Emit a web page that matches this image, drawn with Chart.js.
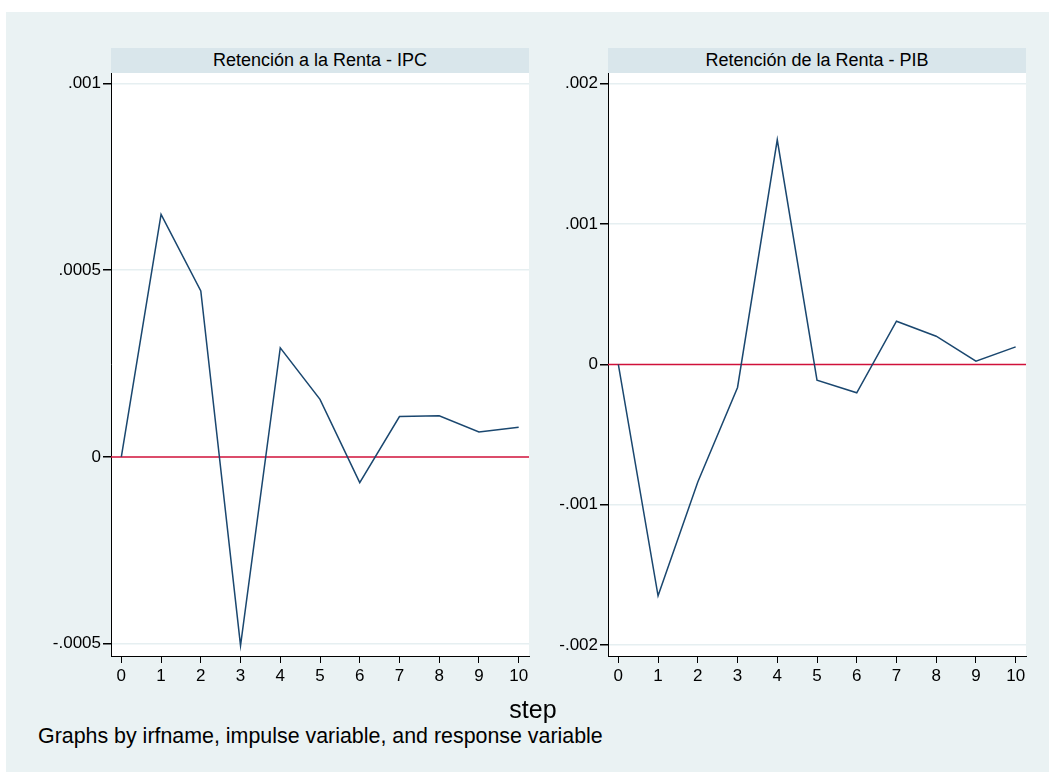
<!DOCTYPE html>
<html>
<head>
<meta charset="utf-8">
<script src="https://cdn.jsdelivr.net/npm/chart.js@4.4.1/dist/chart.umd.min.js"></script>
<style>
  body { margin: 0; background: #fff; width: 1050px; height: 773px; overflow: hidden; font-family: "Liberation Sans", Arial, sans-serif; }
  #outer { position: absolute; left: 6px; top: 12px; width: 1043px; height: 760px; background: #eaf2f3; }
  .band { position: absolute; top: 48px; height: 25px; background: #d9e6eb; color: #000; font-size: 18px; line-height: 25px; text-align: center; }
  .wrap { position: absolute; }
  #stepLabel { position: absolute; left: 483px; width: 100px; top: 694px; text-align: center; font-size: 25px; line-height: 30px; }
  #note { position: absolute; left: 38px; top: 724px; font-size: 21.4px; line-height: 24px; white-space: nowrap; }
</style>
</head>
<body>
<div id="outer"></div>
<div class="band" style="left:111px;width:418px;">Retención a la Renta - IPC</div>
<div class="band" style="left:608px;width:418px;">Retención de la Renta - PIB</div>
<div class="wrap" style="left:0;top:53px;width:540px;height:643px;"><canvas id="ipcChart"></canvas></div>
<div class="wrap" style="left:540px;top:53px;width:500px;height:643px;"><canvas id="pibChart"></canvas></div>
<div id="stepLabel">step</div>
<div id="note">Graphs by irfname, impulse variable, and response variable</div>
<script>
// Data
const steps = [0, 1, 2, 3, 4, 5, 6, 7, 8, 9, 10];
const ipcValues = [0, 0.000649, 0.000444, -0.000505, 0.000292, 0.000154, -0.0000687, 0.000108, 0.00011, 0.0000668, 0.0000794];
const pibValues = [0, -0.001649, -0.000838, -0.000164, 0.001601, -0.000112, -0.000202, 0.000308, 0.000201, 0.0000235, 0.000125];
const ipcTicks = [-0.0005, 0, 0.0005, 0.001];
const ipcTickLabels = ["-.0005", "0", ".0005", ".001"];
const pibTicks = [-0.002, -0.001, 0, 0.001, 0.002];
const pibTickLabels = ["-.002", "-.001", "0", ".001", ".002"];

const FONT = { family: '"Liberation Sans", Arial, sans-serif', size: 17 };

// white plot region + red zero line
const plotRegion = {
  id: 'plotRegion',
  beforeDraw(chart) {
    const { ctx, chartArea } = chart;
    ctx.save();
    ctx.fillStyle = '#fff';
    ctx.fillRect(chartArea.left, chartArea.top, chartArea.right - chartArea.left, chartArea.bottom - chartArea.top);
    ctx.restore();
  },
  beforeDatasetsDraw(chart) {
    const { ctx, chartArea, scales } = chart;
    const y = scales.y.getPixelForValue(0);
    ctx.save();
    ctx.strokeStyle = '#d0103a';
    ctx.lineWidth = 1.5;
    ctx.beginPath();
    ctx.moveTo(chartArea.left, y);
    ctx.lineTo(chartArea.right, y);
    ctx.stroke();
    ctx.restore();
  }
};

function makeChart(canvasId, values, ticks, tickLabels, yMin, yMax, yWidth, padRight) {
  const ctx = document.getElementById(canvasId).getContext('2d');
  return new Chart(ctx, {
    type: 'scatter',
    data: {
      datasets: [{
        data: steps.map((s, i) => ({ x: s, y: values[i] })),
        showLine: true,
        borderColor: '#1a476f',
        borderWidth: 1.5,
        pointRadius: 0,
        tension: 0
      }]
    },
    options: {
      responsive: true,
      maintainAspectRatio: false,
      animation: false,
      layout: { padding: { top: 20, right: padRight, left: 0, bottom: 0 } },
      plugins: { legend: { display: false }, tooltip: { enabled: false } },
      scales: {
        x: {
          type: 'linear',
          min: -0.26,
          max: 10.26,
          afterBuildTicks: scale => { scale.ticks = steps.map(v => ({ value: v })); },
          afterFit: scale => { scale.height = 40; },
          ticks: { color: '#000', font: FONT, padding: 3, maxRotation: 0, callback: v => String(v) },
          grid: { drawOnChartArea: false, tickLength: 7, tickColor: '#000' },
          border: { color: '#000', width: 1 }
        },
        y: {
          min: yMin,
          max: yMax,
          afterBuildTicks: scale => { scale.ticks = ticks.map(v => ({ value: v })); },
          afterFit: scale => { scale.width = yWidth; },
          ticks: {
            color: '#000', font: FONT, padding: 2,
            callback: (v, i) => tickLabels[i]
          },
          grid: {
            color: ctx => (ctx.tick && ctx.tick.value === 0) ? 'rgba(0,0,0,0)' : '#e6eff1',
            lineWidth: 1.5,
            tickLength: 8,
            tickColor: '#000'
          },
          border: { color: '#000', width: 1 }
        }
      }
    },
    plugins: [plotRegion]
  });
}

makeChart('ipcChart', ipcValues, ipcTicks, ipcTickLabels, -0.000533, 0.0010276, 111, 11);
makeChart('pibChart', pibValues, pibTicks, pibTickLabels, -0.002078, 0.002077, 68, 14);
</script>
</body>
</html>
